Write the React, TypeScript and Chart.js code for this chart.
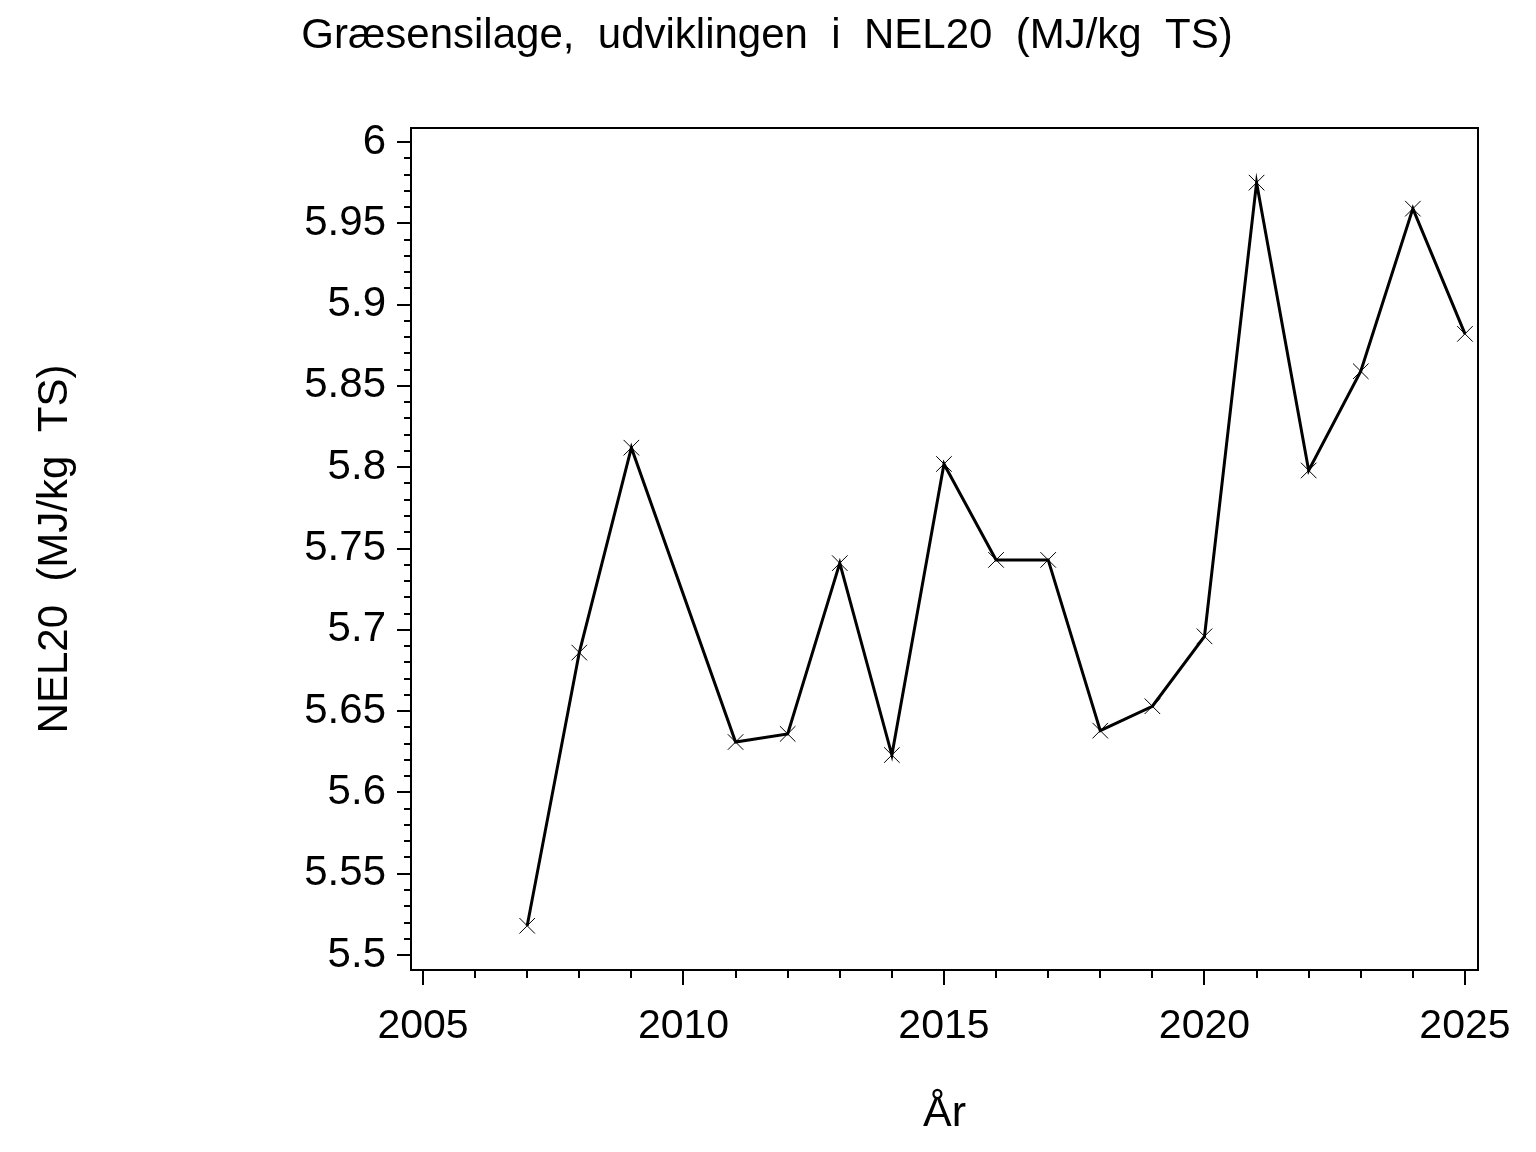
import React, { useEffect, useRef } from "react";
import { Chart, registerables } from "chart.js";

Chart.register(...registerables);

const years = [2007, 2008, 2009, 2011, 2012, 2013, 2014, 2015, 2016, 2017, 2018, 2019, 2020, 2021, 2022, 2023, 2024, 2025];
const nel20 = [5.518, 5.686, 5.812, 5.631, 5.636, 5.741, 5.623, 5.802, 5.743, 5.743, 5.638, 5.653, 5.696, 5.975, 5.798, 5.859, 5.959, 5.882];

const yTickValues = [5.5, 5.55, 5.6, 5.65, 5.7, 5.75, 5.8, 5.85, 5.9, 5.95, 6];
const yTickLabels = ["5.5", "5.55", "5.6", "5.65", "5.7", "5.75", "5.8", "5.85", "5.9", "5.95", "6"];
const xTickValues = [2005, 2010, 2015, 2020, 2025];
const xTickLabels = ["2005", "2010", "2015", "2020", "2025"];

const titleText = "Græsensilage,  udviklingen  i  NEL20  (MJ/kg  TS)";
const yAxisTitle = "NEL20  (MJ/kg  TS)";
const xAxisTitle = "År";

const FONT = '"Liberation Sans", Arial, Helvetica, sans-serif';

const framePlugin = {
  id: "sasFrame",
  afterDraw(chart: any) {
    const { ctx, chartArea: a, scales } = chart;
    const xs = scales.x;
    const ys = scales.y;
    ctx.save();
    ctx.strokeStyle = "#000";
    ctx.lineWidth = 2;
    ctx.strokeRect(a.left, a.top, a.right - a.left, a.bottom - a.top);

    // y ticks: major every 0.05, minor every 0.01
    for (let i = 0; i <= 50; i++) {
      const v = 5.5 + i * 0.01;
      const p = Math.round(ys.getPixelForValue(v));
      const len = i % 5 === 0 ? 14 : 7;
      ctx.beginPath();
      ctx.moveTo(a.left - len, p);
      ctx.lineTo(a.left, p);
      ctx.stroke();
    }
    // x ticks: major every 5 years, minor every year
    for (let yr = 2005; yr <= 2025; yr++) {
      const p = Math.round(xs.getPixelForValue(yr));
      const len = (yr - 2005) % 5 === 0 ? 15 : 8;
      ctx.beginPath();
      ctx.moveTo(p, a.bottom);
      ctx.lineTo(p, a.bottom + len);
      ctx.stroke();
    }

    ctx.fillStyle = "#000";
    ctx.textBaseline = "alphabetic";
    ctx.textAlign = "center";
    ctx.font = `42px ${FONT}`;
    ctx.fillText(titleText, 767, 48);

    ctx.font = `43px ${FONT}`;
    ctx.fillText(xAxisTitle, (a.left + a.right) / 2, 1126);

    ctx.save();
    ctx.font = `42px ${FONT}`;
    ctx.translate(67, (a.top + a.bottom) / 2);
    ctx.rotate(-Math.PI / 2);
    ctx.fillText(yAxisTitle, 0, 0);
    ctx.restore();

    ctx.restore();
  },
};

export default function App() {
  const canvasRef = useRef<HTMLCanvasElement | null>(null);

  useEffect(() => {
    const canvas = canvasRef.current;
    if (!canvas) return;
    const chart = new Chart(canvas, {
      type: "line",
      data: {
        datasets: [
          {
            data: years.map((yr, i) => ({ x: yr, y: nel20[i] })),
            borderColor: "#000",
            borderWidth: 3,
            pointStyle: "crossRot",
            pointRadius: 11,
            pointBorderWidth: 1,
            pointBorderColor: "#000",
            pointBackgroundColor: "#000",
            tension: 0,
            fill: false,
          },
        ],
      },
      options: {
        responsive: false,
        animation: false,
        devicePixelRatio: 1,
        layout: { padding: { left: 0, right: 58, top: 128, bottom: 0 } },
        plugins: {
          legend: { display: false },
          tooltip: { enabled: false },
          title: { display: false },
        },
        scales: {
          x: {
            type: "linear",
            min: 2004.77,
            max: 2025.25,
            border: { display: false },
            grid: { drawOnChartArea: false, drawTicks: true, tickLength: 15, tickColor: "rgba(0,0,0,0)" },
            afterBuildTicks: (scale: any) => {
              scale.ticks = xTickValues.map((v) => ({ value: v }));
            },
            afterFit: (scale: any) => {
              scale.height = 182;
            },
            ticks: {
              color: "#000",
              font: { family: FONT, size: 41 },
              padding: 17,
              maxRotation: 0,
              autoSkip: false,
              callback: (v: any) => {
                const idx = xTickValues.indexOf(Number(v));
                return idx >= 0 ? xTickLabels[idx] : "";
              },
            },
          },
          y: {
            type: "linear",
            min: 5.4908,
            max: 6.0086,
            border: { display: false },
            grid: { drawOnChartArea: false, drawTicks: true, tickLength: 14, tickColor: "rgba(0,0,0,0)" },
            afterBuildTicks: (scale: any) => {
              scale.ticks = yTickValues.map((v) => ({ value: v }));
            },
            afterFit: (scale: any) => {
              scale.width = 411;
            },
            ticks: {
              color: "#000",
              font: { family: FONT, size: 42 },
              padding: 11,
              autoSkip: false,
              callback: (v: any) => {
                const n = Number(v);
                const idx = yTickValues.findIndex((t) => Math.abs(t - n) < 1e-6);
                return idx >= 0 ? yTickLabels[idx] : "";
              },
            },
          },
        },
      },
      plugins: [framePlugin],
    });
    return () => chart.destroy();
  }, []);

  return (
    <div style={{ position: "fixed", left: 0, top: 0, width: 1536, height: 1152, background: "#fff" }}>
      <canvas ref={canvasRef} width={1536} height={1152} style={{ display: "block", width: 1536, height: 1152 }} />
    </div>
  );
}
